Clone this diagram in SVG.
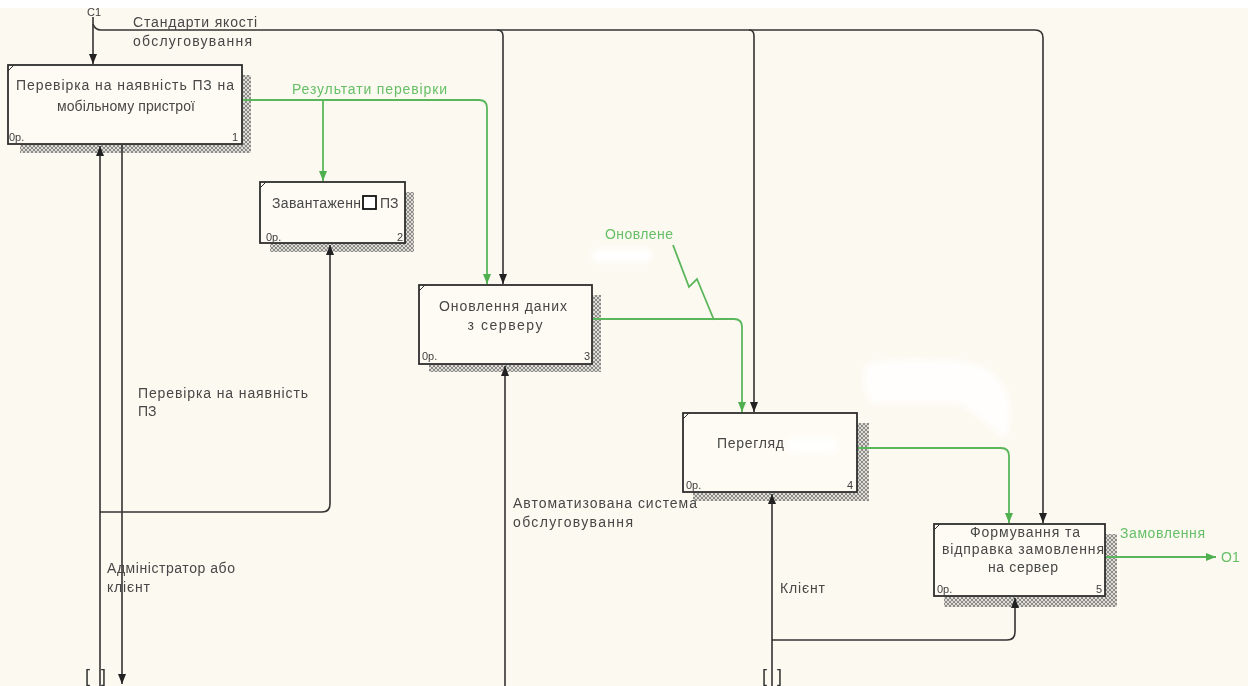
<svg xmlns="http://www.w3.org/2000/svg" width="1248" height="686" viewBox="0 0 1248 686">
  <style>
    .box { fill: #fdfbf3; stroke: #2e2e2e; stroke-width: 1.8; }
    .shadow { fill: url(#hatch); }
    .corner { stroke: #2e2e2e; stroke-width: 1; fill: none; }
    .t { font-family: "Liberation Sans", Arial, sans-serif; font-size: 14px; fill: #474747; }
    .tg { font-family: "Liberation Sans", Arial, sans-serif; font-size: 14px; fill: #66bf66; }
    .small { font-family: "Liberation Sans", Arial, sans-serif; font-size: 11px; fill: #404040; }
    .dark { fill: none; stroke: #333333; stroke-width: 1.6; }
    .green { fill: none; stroke: #5ab65a; stroke-width: 1.8; }
    .tun { font-family: "Liberation Sans", Arial, sans-serif; font-size: 18px; fill: #333333; }
  </style>
  <defs>
    <pattern id="hatch" width="4" height="4" patternUnits="userSpaceOnUse">
      <rect width="4" height="4" fill="#dedcd4"/>
      <path d="M0,4 L4,0 M0,0 L4,4" stroke="#777777" stroke-width="0.8"/>
    </pattern>
    <marker id="ah" viewBox="0 0 10 10" refX="10" refY="5" markerWidth="10" markerHeight="10" markerUnits="userSpaceOnUse" orient="auto">
      <path d="M0,1 L10,5 L0,9 z" fill="#222222"/>
    </marker>
    <marker id="ahg" viewBox="0 0 10 10" refX="10" refY="5" markerWidth="10" markerHeight="10" markerUnits="userSpaceOnUse" orient="auto">
      <path d="M0,1 L10,5 L0,9 z" fill="#4fb04f"/>
    </marker>
    <filter id="soft" x="-20%" y="-40%" width="140%" height="180%">
      <feGaussianBlur stdDeviation="3"/>
    </filter>
  </defs>

  <!-- page -->
  <rect width="1248" height="686" fill="#fcf9f0"/>
  <rect width="1248" height="8" fill="#ffffff"/>

  <!-- erased patches -->
  <g id="patches" fill="#ffffff" filter="url(#soft)">
    <rect x="592" y="249" width="60" height="13" rx="5"/>
    <path opacity="0.8" d="M866,364 Q900,356 960,361 Q1000,367 1008,395 Q1014,425 1004,440 Q985,420 960,404 L872,404 Q858,384 866,364 z"/>
  </g>

  <!-- activity boxes -->
  <g id="node1">
    <rect class="shadow" x="242" y="75" width="9" height="78"/>
    <rect class="shadow" x="20" y="144" width="231" height="9"/>
    <rect class="box" x="8" y="65" width="234" height="79"/>
    <path class="corner" d="M8,71 L14,65"/>
    <text class="t" x="125" y="90" text-anchor="middle" textLength="218" lengthAdjust="spacing">Перевірка на наявність ПЗ на</text>
    <text class="t" x="126" y="111" text-anchor="middle" textLength="138" lengthAdjust="spacing">мобільному пристрої</text>
    <text class="small" x="9" y="141">0р.</text>
    <text class="small" x="232" y="141">1</text>
  </g>

  <g id="node2">
    <rect class="shadow" x="405" y="192" width="9" height="60"/>
    <rect class="shadow" x="270" y="243" width="144" height="9"/>
    <rect class="box" x="260" y="182" width="145" height="61"/>
    <path class="corner" d="M260,188 L266,182"/>
    <text class="t" x="272" y="208" textLength="89" lengthAdjust="spacing">Завантаженн</text>
    <rect x="363" y="196" width="13" height="13" fill="#ffffff" stroke="#111111" stroke-width="1.8"/>
    <text class="t" x="380" y="208">ПЗ</text>
    <text class="small" x="266" y="241">0р.</text>
    <text class="small" x="397" y="241">2</text>
  </g>

  <g id="node3">
    <rect class="shadow" x="592" y="295" width="9" height="77"/>
    <rect class="shadow" x="429" y="364" width="172" height="8"/>
    <rect class="box" x="419" y="285" width="173" height="79"/>
    <path class="corner" d="M419,291 L425,285"/>
    <text class="t" x="503" y="311" text-anchor="middle" textLength="128" lengthAdjust="spacing">Оновлення даних</text>
    <text class="t" x="505" y="330" text-anchor="middle" textLength="75" lengthAdjust="spacing">з серверу</text>
    <text class="small" x="422" y="360">0р.</text>
    <text class="small" x="584" y="360">3</text>
  </g>

  <g id="node4">
    <rect class="shadow" x="857" y="423" width="12" height="78"/>
    <rect class="shadow" x="693" y="492" width="176" height="9"/>
    <rect class="box" x="683" y="413" width="174" height="79"/>
    <path class="corner" d="M683,419 L689,413"/>
    <text class="t" x="717" y="448" textLength="67" lengthAdjust="spacing">Перегляд</text>
    <rect x="788" y="438" width="48" height="15" fill="#ffffff" filter="url(#soft)"/>
    <text class="small" x="686" y="489">0р.</text>
    <text class="small" x="847" y="489">4</text>
  </g>

  <g id="node5">
    <rect class="shadow" x="1105" y="534" width="12" height="73"/>
    <rect class="shadow" x="944" y="596" width="173" height="11"/>
    <rect class="box" x="934" y="524" width="171" height="72"/>
    <path class="corner" d="M934,530 L940,524"/>
    <text class="t" x="1025" y="537" text-anchor="middle" textLength="110" lengthAdjust="spacing">Формування та</text>
    <text class="t" x="1023" y="554" text-anchor="middle" textLength="162" lengthAdjust="spacing">відправка замовлення</text>
    <text class="t" x="1023" y="572" text-anchor="middle" textLength="70" lengthAdjust="spacing">на сервер</text>
    <text class="small" x="937" y="593">0р.</text>
    <text class="small" x="1096" y="593">5</text>
  </g>

  <!-- arrows -->
  <g id="connectors">
    <!-- control: service quality standards -->
    <path class="dark" d="M93,17 V64" marker-end="url(#ah)"/>
    <path class="dark" d="M93,24 Q95,30 101,30 H1035 Q1043,30 1043,38 V523" marker-end="url(#ah)"/>
    <path class="dark" d="M497,30 Q503,30 503,36 V284" marker-end="url(#ah)"/>
    <path class="dark" d="M749,30 Q754,30 754,36 V412" marker-end="url(#ah)"/>

    <!-- mechanisms and outputs at the bottom -->
    <path class="dark" d="M100,686 V146" marker-end="url(#ah)"/>
    <path class="dark" d="M122,145 V684" marker-end="url(#ah)"/>
    <path class="dark" d="M100,512 H322 Q330,512 330,504 V245" marker-end="url(#ah)"/>
    <path class="dark" d="M505,686 V366" marker-end="url(#ah)"/>
    <path class="dark" d="M772,686 V494" marker-end="url(#ah)"/>
    <path class="dark" d="M772,640 H1007 Q1015,640 1015,632 V598" marker-end="url(#ah)"/>

    <!-- data flows -->
    <path class="green" d="M243,100 H479 Q487,100 487,108 V284" marker-end="url(#ahg)"/>
    <path class="green" d="M323,100 V181" marker-end="url(#ahg)"/>
    <path class="green" d="M593,319 H734 Q742,319 742,327 V412" marker-end="url(#ahg)"/>
    <path class="green" d="M858,448 H1001 Q1009,448 1009,456 V523" marker-end="url(#ahg)"/>
    <path class="green" d="M1106,557 H1216" marker-end="url(#ahg)"/>
    <path class="green" d="M673,245 L689,287 L697,279 L714,320" stroke-width="1.4"/>

    <!-- tunnels -->
    <text class="tun" x="85" y="682">[</text>
    <text class="tun" x="101" y="682">]</text>
    <text class="tun" x="762" y="682">[</text>
    <text class="tun" x="777" y="682">]</text>

    <!-- labels -->
    <text class="small" x="87" y="16">C1</text>
    <text class="t" x="133" y="27" textLength="124" lengthAdjust="spacing">Стандарти якості</text>
    <text class="t" x="133" y="46" textLength="119" lengthAdjust="spacing">обслуговування</text>
    <text class="tg" x="292" y="94" textLength="155" lengthAdjust="spacing">Результати перевірки</text>
    <text class="tg" x="605" y="239" textLength="68" lengthAdjust="spacing">Оновлене</text>
    <text class="tg" x="1120" y="538" textLength="85" lengthAdjust="spacing">Замовлення</text>
    <text class="tg" x="1221" y="562" font-size="11">O1</text>
    <text class="t" x="138" y="398" textLength="170" lengthAdjust="spacing">Перевірка на наявність</text>
    <text class="t" x="138" y="416">ПЗ</text>
    <text class="t" x="107" y="573" textLength="128" lengthAdjust="spacing">Адміністратор або</text>
    <text class="t" x="107" y="592" textLength="43" lengthAdjust="spacing">клієнт</text>
    <text class="t" x="513" y="508" textLength="184" lengthAdjust="spacing">Автоматизована система</text>
    <text class="t" x="513" y="527" textLength="120" lengthAdjust="spacing">обслуговування</text>
    <text class="t" x="780" y="593" textLength="45" lengthAdjust="spacing">Клієнт</text>
  </g>
</svg>
